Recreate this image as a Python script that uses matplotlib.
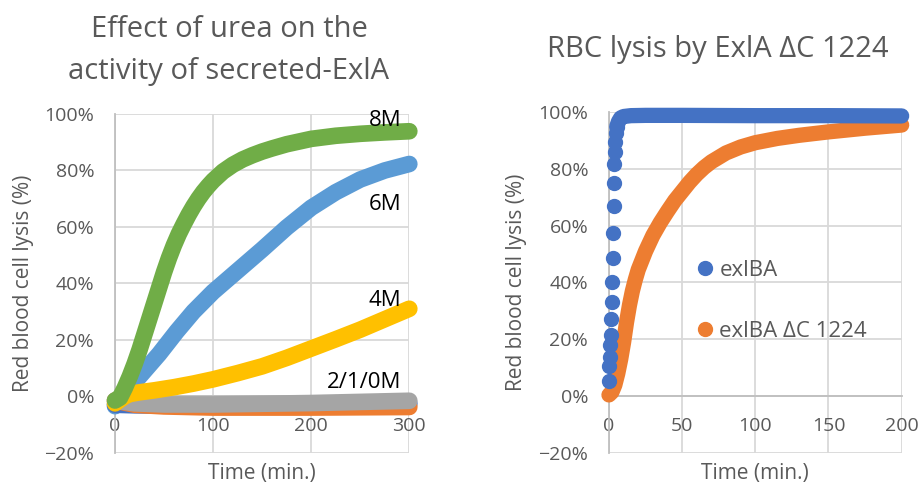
import matplotlib
matplotlib.use("Agg")
from matplotlib import pyplot as plt
from matplotlib.lines import Line2D
from matplotlib.ticker import PercentFormatter

plt.rcParams['font.family'] = ['Open Sans', 'DejaVu Sans']

# ---- left chart: urea series (time in min., lysis in %) ----
t_8m = [0, 5, 10, 15, 20, 25, 30, 35, 40, 45, 50, 55, 60, 65, 70, 75, 80, 85, 90, 95, 100,
        110, 120, 130, 140, 150, 160, 175, 200, 225, 250, 275, 300]
y_8m = [-1.5, -0.5, 3, 7, 11.5, 16.5, 22, 27.5, 33, 38.5, 44, 49, 53.5, 57.5, 61, 64.3, 67.3, 70, 72.4, 74.5, 76.4,
        79.6, 82, 83.9, 85.4, 86.7, 87.8, 89.3, 91.2, 92.3, 93, 93.5, 93.9]

t_6m = [0, 5, 10, 20, 30, 45, 63, 80, 100, 125, 150, 175, 200, 225, 250, 275, 300]
y_6m = [-3.5, -2, 0.5, 5, 9, 15, 23, 30, 37, 44.5, 52, 59.8, 66.8, 72.3, 76.8, 80, 82.3]

t_4m = [0, 5, 10, 15, 25, 40, 60, 80, 100, 125, 150, 175, 200, 225, 250, 275, 300]
y_4m = [-2.5, -1.2, 0, 0.8, 1.4, 2.1, 3.2, 4.5, 6, 8.2, 10.6, 13.6, 16.9, 20.2, 23.6, 27.3, 31]

t_0m = [0, 20, 50, 100, 200, 300]
y_0m = [-3, -3.2, -3.3, -3.3, -3, -2.6]      # dark blue, mostly hidden
t_1m = [0, 20, 50, 100, 200, 300]
y_1m = [-1.5, -3, -3.6, -4, -4, -3.8]        # orange
t_2m = [0, 20, 50, 100, 200, 300]
y_2m = [-1.5, -2.5, -2.9, -2.9, -2.4, -1.6]  # gray

labels_left = ['8M', '6M', '4M', '2/1/0M']
label_y = [97.7, 68, 33.9, 5]

# ---- right chart: exlBA vs exlBA dC 1224 ----
t_wt_dots = [0.0, 0.3, 0.6, 0.9, 1.2, 1.5, 1.9, 2.3, 2.6, 2.9, 3.1, 3.3, 3.5, 3.8, 4.2, 4.7, 5.3]
y_wt_dots = [5.5, 10.5, 14, 18, 21.5, 27, 33, 40, 48.5, 57.5, 66.7, 75, 81.5, 86, 89.5, 92.5, 94.7]
t_wt = [5.3, 6.5, 8, 10, 15, 25, 50, 100, 150, 200]
y_wt = [94.7, 96.5, 97.8, 98.3, 98.6, 98.7, 98.7, 98.6, 98.6, 98.5]

t_dc = [0, 2, 4, 6, 8, 10, 12, 14, 16, 18, 20, 25, 30, 35, 40, 45, 50, 55, 60, 65, 70,
        80, 90, 100, 115, 130, 150, 175, 200]
y_dc = [0.5, 1.5, 4, 8, 13, 19, 26, 32, 37, 41, 44.5, 51, 56.5, 61, 65, 68.8, 72, 75.2, 78, 80.4, 82.4,
        85.5, 87.6, 89.1, 90.6, 91.7, 92.9, 94.2, 95.3]

legend_labels = ['exlBA', 'exlBA \u0394C 1224']

grey = '#595959'


def style(ax, xmax, xstep):
    ax.set_xlim(0, xmax)
    ax.set_ylim(-20, 100)
    ax.set_xticks(range(0, xmax + 1, xstep))
    ax.set_yticks(range(-20, 101, 20))
    ax.yaxis.set_major_formatter(PercentFormatter(decimals=0))
    ax.grid(color='#D9D9D9', lw=1.3)
    ax.set_axisbelow(True)
    ax.spines['top'].set_visible(False)
    ax.spines['right'].set_visible(False)
    ax.spines['bottom'].set_position(('data', 0))
    ax.spines['bottom'].set_color('#BFBFBF')
    ax.spines['left'].set_color('#BFBFBF')
    ax.spines['bottom'].set_linewidth(1.3)
    ax.spines['left'].set_linewidth(1.3)
    ax.tick_params(length=0, labelsize=14, colors=grey)
    ax.tick_params(axis='x', pad=15)
    ax.tick_params(axis='y', pad=15)
    ax.set_xlabel('Time (min.)', fontsize=15, color=grey, va='center')
    ax.set_ylabel('Red blood cell lysis (%)', fontsize=15, color=grey, va='center')


fig = plt.figure(figsize=(9.21, 4.83), dpi=100)
ax1 = fig.add_axes([0.1249, 0.0627, 0.3195, 0.7012])
ax2 = fig.add_axes([0.6612, 0.0615, 0.3178, 0.7073])

style(ax1, 300, 100)
style(ax2, 200, 50)
ax1.xaxis.set_label_coords(0.5, -0.06)
ax1.yaxis.set_label_coords(-0.3126, 0.5)
ax2.xaxis.set_label_coords(0.5, -0.06)
ax2.yaxis.set_label_coords(-0.3143, 0.5)

kw = dict(lw=12, solid_capstyle='round', solid_joinstyle='round', clip_on=False)
ax1.plot(t_6m, y_6m, color='#5B9BD5', zorder=3, **kw)
ax1.plot(t_0m, y_0m, color='#4472C4', zorder=3.5, **kw)
ax1.plot(t_1m, y_1m, color='#ED7D31', zorder=4, **kw)
ax1.plot(t_2m, y_2m, color='#A5A5A5', zorder=5, **kw)
ax1.plot(t_4m, y_4m, color='#FFC000', zorder=6, **kw)
ax1.plot(t_8m, y_8m, color='#70AD47', zorder=7, **kw)

for lab, yy in zip(labels_left, label_y):
    ax1.text(292, yy, lab, ha='right', va='center', fontsize=16, color='black', zorder=10)

ax2.plot(t_dc, y_dc, color='#ED7D31', lw=11, solid_capstyle='round',
         solid_joinstyle='round', clip_on=False, zorder=3)
ax2.plot(t_wt, y_wt, color='#4472C4', lw=11, solid_capstyle='round',
         solid_joinstyle='round', clip_on=False, zorder=4)
ax2.plot(t_wt_dots, y_wt_dots, ls='', marker='o', ms=10, color='#4472C4',
         clip_on=False, zorder=4)

handles = [Line2D([], [], ls='', marker='o', ms=10, color='#4472C4'),
           Line2D([], [], ls='', marker='o', ms=10, color='#ED7D31')]
ax2.legend(handles, legend_labels, loc='center left', bbox_to_anchor=(0.29, 0.446),
           frameon=False, fontsize=16, handlelength=1.0, handletextpad=0.15,
           labelspacing=1.78, borderpad=0, borderaxespad=0, labelcolor=grey)

fig.text(0.2486, 0.9379, 'Effect of urea on the', ha='center', va='center', fontsize=21, color=grey)
fig.text(0.2486, 0.851, 'activity of secreted-ExlA', ha='center', va='center', fontsize=21, color=grey)
fig.text(0.7796, 0.8965, 'RBC lysis by ExlA \u0394C 1224', ha='center', va='center', fontsize=21, color=grey)

fig.savefig('out.png', dpi=100)
